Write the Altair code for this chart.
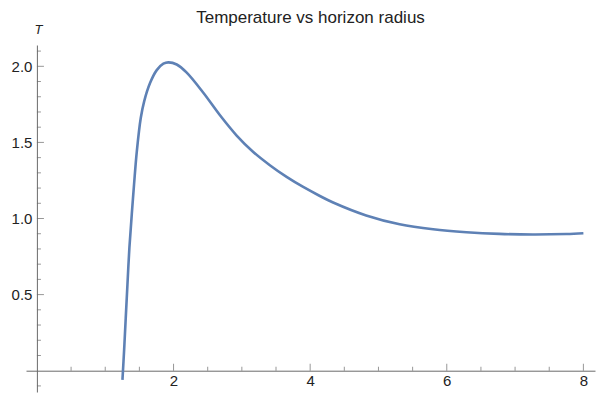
import altair as alt
import pandas as pd

# Curve samples
r_vals = [1.252, 1.277, 1.300, 1.325, 1.354, 1.389, 1.422, 1.462, 1.520, 1.570,
          1.656, 1.754, 1.851, 1.924, 2.047, 2.193, 2.436, 2.680, 2.924, 3.167,
          3.410, 3.655, 3.898, 4.142, 4.336, 4.820, 5.310, 5.800, 6.287, 6.770,
          7.260, 7.750, 8.000]
t_vals = [-0.060, 0.140, 0.345, 0.565, 0.810, 1.030, 1.225, 1.440, 1.660, 1.770,
          1.890, 1.975, 2.017, 2.026, 2.012, 1.958, 1.826, 1.678, 1.545, 1.437,
          1.350, 1.273, 1.207, 1.148, 1.105, 1.020, 0.962, 0.929, 0.910, 0.899,
          0.895, 0.898, 0.903]

x_labels = [2, 4, 6, 8]
x_major = [2, 4, 6, 8]
x_minor = [0.5, 1, 1.5, 2.5, 3, 3.5, 4.5, 5, 5.5, 6.5, 7, 7.5]
y_labels = [0.5, 1.0, 1.5, 2.0]
y_major = [0.5, 1.0, 1.5, 2.0]
y_minor = [-0.1, 0.1, 0.2, 0.3, 0.4, 0.6, 0.7, 0.8, 0.9, 1.1, 1.2, 1.3, 1.4,
           1.6, 1.7, 1.8, 1.9, 2.1]

curve = pd.DataFrame({"r": r_vals, "T": t_vals})

FONT = "Liberation Sans"
AXC = "#6b6b6b"

xs = alt.Scale(domain=[-0.16, 8.17], nice=False, zero=False)
ys = alt.Scale(domain=[-0.14, 2.14], nice=False, zero=False)

x_axis = alt.Axis(values=x_labels, format="d", offset=-21.3, grid=False,
                  ticks=False, tickSize=0, domainColor=AXC, domainWidth=1,
                  labelPadding=3, labelFontSize=15, labelFont=FONT,
                  labelColor="#222222", title=None)
y_axis = alt.Axis(values=y_labels, format=".1f", offset=-10.9, grid=False,
                  ticks=False, tickSize=0, domainColor=AXC, domainWidth=1,
                  labelPadding=5, labelFontSize=15, labelFont=FONT,
                  labelColor="#222222", title="T", titleAngle=0,
                  titleFontStyle="italic", titleFontWeight="normal",
                  titleFont=FONT, titleFontSize=13, titleColor="#222222",
                  titleX=1, titleY=-12, titleAlign="center",
                  titleBaseline="alphabetic")

line = alt.Chart(curve).mark_line(
    color="#5E81B5", strokeWidth=2.6, interpolate="catmull-rom"
).encode(
    x=alt.X("r:Q", scale=xs, axis=x_axis),
    y=alt.Y("T:Q", scale=ys, axis=y_axis),
)


def xticks(vals, size):
    df = pd.DataFrame({"r": vals, "T": [0.0] * len(vals)})
    return alt.Chart(df).mark_tick(
        orient="vertical", size=size, thickness=1, color=AXC, yOffset=-size / 2
    ).encode(
        x=alt.X("r:Q"),
        y=alt.Y("T:Q"),
    )


def yticks(vals, size):
    df = pd.DataFrame({"T": vals, "r": [0.0] * len(vals)})
    return alt.Chart(df).mark_tick(
        orient="horizontal", size=size, thickness=1, color=AXC, xOffset=size / 2
    ).encode(
        y=alt.Y("T:Q"),
        x=alt.X("r:Q"),
    )


chart = alt.layer(
    line,
    xticks(x_major, 7), xticks(x_minor, 4),
    yticks(y_major, 7), yticks(y_minor, 4),
).properties(
    width=569,
    height=347,
    title=alt.TitleParams("Temperature vs horizon radius", fontSize=17,
                          font=FONT, fontWeight="normal", color="#222222",
                          anchor="middle", offset=-4),
    autosize=alt.AutoSizeParams(type="none"),
    padding={"left": 18, "top": 37, "right": 5, "bottom": 2},
    background="white",
).configure_view(stroke=None)

chart.save("out.html", embed_options={"renderer": "svg", "actions": False})
